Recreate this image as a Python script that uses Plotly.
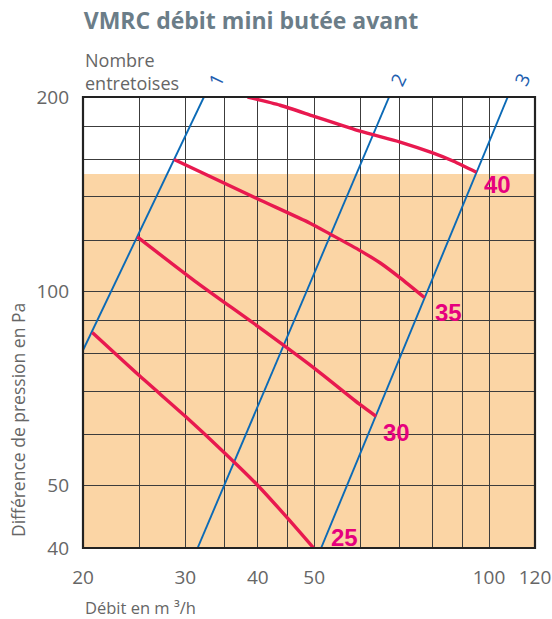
import math
import plotly.graph_objects as go

# ---------------- data ----------------
x_ticks = [20, 30, 40, 50, 100, 120]
x_minor = [25, 35, 45, 60, 70, 80, 90]
y_ticks = [40, 50, 100, 200]
y_minor = [60, 70, 80, 90, 120, 140, 160, 180]

# "Nombre entretoises" lines (flow m3/h, pressure Pa)
ent_labels = ["1", "2", "3"]
ent1_flow = [20, 32.3]
ent1_pres = [81, 200]
ent2_flow = [31.5, 67.3]
ent2_pres = [40, 200]
ent3_flow = [51.4, 107.7]
ent3_pres = [40, 200]
ent_label_flow = [33.9, 69.8, 114]

# red curves
c25_flow = [20.75, 25, 30, 35.1, 40, 45, 49.9]
c25_pres = [86.3, 74, 64, 56.1, 50, 44.5, 40]
c30_flow = [24.8, 31.2, 40, 50, 60, 63.9]
c30_pres = [121.4, 103.6, 88.2, 76, 66.7, 64]
c35_flow = [28.7, 40, 49.2, 53.3, 60, 65, 70.4, 77.4]
c35_pres = [160, 139, 127.5, 122.6, 115.6, 110.6, 104.8, 97.8]
c40_flow = [38.4, 43.7, 50, 60, 70.3, 80, 86.9, 95.1]
c40_pres = [200, 194.2, 186.7, 177, 170.3, 163.8, 159, 152.9]

curve_labels = ["25", "30", "35", "40"]
curve_label_flow = [56.4, 69.3, 85.1, 103.4]
curve_label_pres = [41.5, 60.4, 92.7, 146.4]

zone_max = 152  # orange zone upper limit (Pa)

# ---------------- style ----------------
BLUE = "#0b6ab6"
RED = "#e8194f"
MAGENTA = "#e6007e"
GRID = "#3c3c3c"
TXT = "#666666"
ORANGE = "#fbd5a5"
FONT = "Open Sans"

W, H = 552, 619
L, R, T, B = 83, 17, 97, 71
PW, PH = W - L - R, H - T - B

fig = go.Figure()

for fx, py in [(ent1_flow, ent1_pres), (ent2_flow, ent2_pres), (ent3_flow, ent3_pres)]:
    fig.add_trace(go.Scatter(x=fx, y=py, mode="lines",
                             line=dict(color=BLUE, width=1.9),
                             hoverinfo="skip", showlegend=False))

for fx, py in [(c25_flow, c25_pres), (c30_flow, c30_pres), (c35_flow, c35_pres), (c40_flow, c40_pres)]:
    fig.add_trace(go.Scatter(x=fx, y=py, mode="lines",
                             line=dict(color=RED, width=3.4, shape="spline", smoothing=0.6),
                             hoverinfo="skip", showlegend=False))

ymin, ymax = math.log10(40), math.log10(200)
zone_paper = (math.log10(zone_max) - ymin) / (ymax - ymin)

shapes = [
    dict(type="rect", xref="paper", yref="paper", x0=0, x1=1, y0=0, y1=zone_paper,
         fillcolor=ORANGE, line=dict(width=0), layer="below"),
    dict(type="rect", xref="paper", yref="paper", x0=0, x1=1, y0=0, y1=1,
         fillcolor="rgba(0,0,0,0)", line=dict(color="#222222", width=2.2), layer="above"),
]

annotations = []
for lab, fx, fy in zip(curve_labels, curve_label_flow, curve_label_pres):
    annotations.append(dict(x=math.log10(fx), y=math.log10(fy), xref="x", yref="y",
                            xanchor="center", yanchor="middle",
                            text=f"<b>{lab}</b>", showarrow=False,
                            font=dict(family="Liberation Sans", size=24, color=MAGENTA)))

for lab, fx in zip(ent_labels, ent_label_flow):
    annotations.append(dict(x=math.log10(fx), y=1 + (T - 80) / PH, xref="x", yref="paper",
                            xanchor="center", yanchor="middle",
                            text=lab, showarrow=False, textangle=-64,
                            font=dict(family=FONT, size=19, color="#1f5fb0")))

annotations.append(dict(x=0, y=1.0, xref="paper", yref="paper",
                        xanchor="left", yanchor="bottom", align="left",
                        text="Nombre<br>entretoises", showarrow=False,
                        font=dict(family=FONT, size=18, color=TXT)))
annotations.append(dict(x=(18 - L) / PW, y=(548 - 420) / PH,
                        xref="paper", yref="paper", textangle=-90,
                        xanchor="center", yanchor="middle",
                        text="Différence de pression en Pa", showarrow=False,
                        font=dict(family=FONT, size=17.5, color=TXT)))
annotations.append(dict(x=0, y=-(607 - 548) / PH, xref="paper", yref="paper",
                        xanchor="left", yanchor="middle",
                        text="Débit en m ³/h", showarrow=False,
                        font=dict(family=FONT, size=16.5, color=TXT)))

fig.update_layout(
    width=W, height=H, autosize=False,
    margin=dict(l=L, r=R, t=T, b=B, autoexpand=False),
    paper_bgcolor="white", plot_bgcolor="white",
    title=dict(text="<b>VMRC débit mini butée avant</b>", x=251 / W, xanchor="center",
               y=1 - 21 / H, yanchor="middle",
               font=dict(family=FONT, size=23, color="#6b7d88")),
    shapes=shapes, annotations=annotations,
    xaxis=dict(type="log", range=[math.log10(20), math.log10(120)],
               tickmode="array", tickvals=x_ticks, ticktext=[str(v) for v in x_ticks],
               showgrid=True, gridcolor=GRID, gridwidth=1.3, zeroline=False,
               ticks="", ticklabelstandoff=16, showline=False, automargin=False,
               tickfont=dict(family=FONT, size=19, color=TXT),
               minor=dict(tickmode="array", tickvals=x_minor, showgrid=True,
                          gridcolor=GRID, gridwidth=1.3, ticks=""),
               fixedrange=True),
    yaxis=dict(type="log", range=[ymin, ymax],
               tickmode="array", tickvals=y_ticks, ticktext=[str(v) for v in y_ticks],
               showgrid=True, gridcolor=GRID, gridwidth=1.3, zeroline=False,
               ticks="", ticklabelstandoff=13, showline=False, automargin=False,
               tickfont=dict(family=FONT, size=19, color=TXT),
               minor=dict(tickmode="array", tickvals=y_minor, showgrid=True,
                          gridcolor=GRID, gridwidth=1.3, ticks=""),
               fixedrange=True),
)

fig.write_html("out.html", config={"displayModeBar": False},
               post_script="document.body.style.margin='0';")
